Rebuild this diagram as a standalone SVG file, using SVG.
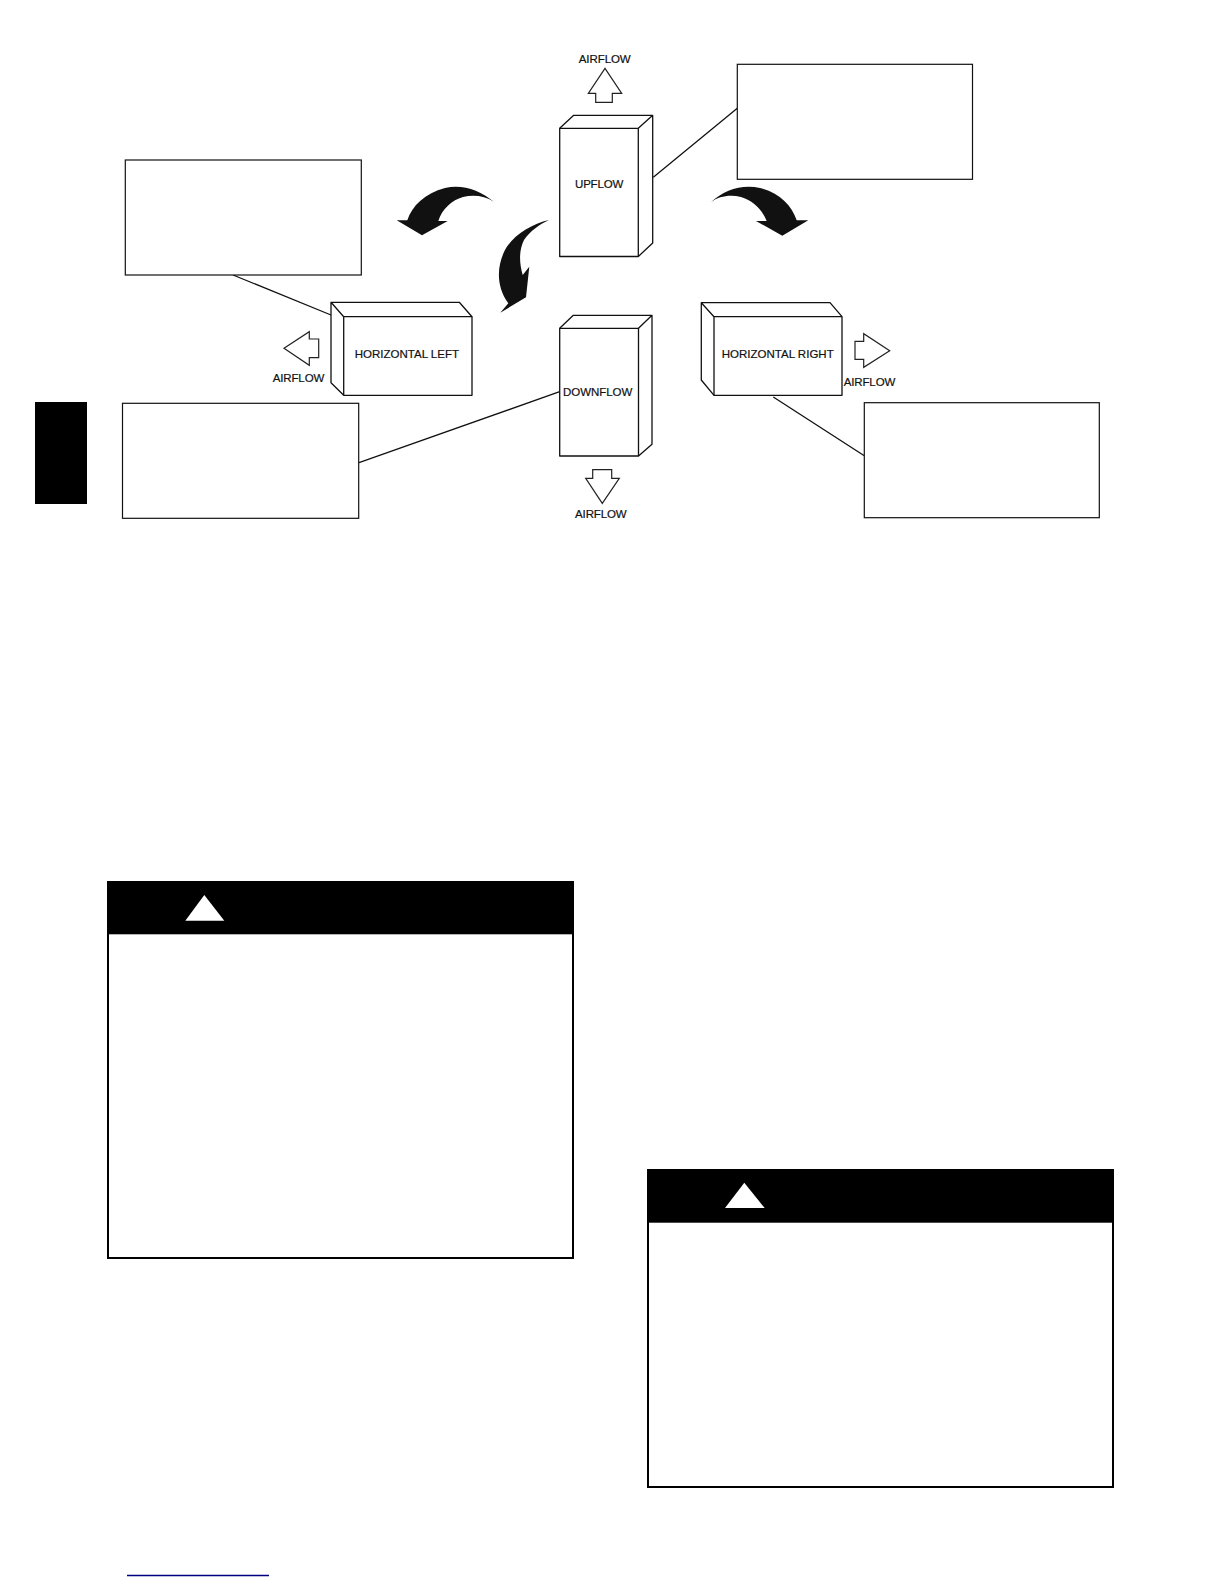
<svg xmlns="http://www.w3.org/2000/svg" width="1224" height="1584" viewBox="0 0 1224 1584">
<style>
.l{fill:none;stroke:#111;stroke-width:1.3;stroke-linejoin:round}
.b{fill:#fff;stroke:#111;stroke-width:1.2}
.a{fill:#fff;stroke:#222;stroke-width:1.2}
.c{fill:#111;stroke:none}
text{font-family:"Liberation Sans",Arial,sans-serif;font-size:11.5px;fill:#111;stroke:#111;stroke-width:.2}
.w{fill:#fff;stroke:#000;stroke-width:2}
</style>
<rect width="1224" height="1584" fill="#fff"/>
<rect id="side-tab" x="35" y="402" width="52" height="102" fill="#000"/>
<g id="connectors">
<path class="l" d="M653.3 177.3L737.3 108.3M233 275L331 315M359 462.7L559.7 391.7M773.3 397L864.3 455.7"/>
</g>
<g id="note-upper-right"><rect class="b" x="737.3" y="64.3" width="235.2" height="115"/></g>
<g id="note-upper-left"><rect class="b" x="125.3" y="160" width="236" height="115"/></g>
<g id="note-lower-left"><rect class="b" x="122.5" y="403.3" width="236.2" height="115"/></g>
<g id="note-lower-right"><rect class="b" x="864.3" y="402.7" width="235" height="115"/></g>
<g id="upflow">
<path class="l" d="M559.7 128.3L573.7 115.3H652.7V243L638.3 256.5M638.3 128.3L652.7 115.3"/>
<rect class="l" x="559.7" y="128.3" width="78.6" height="128.2"/>
<text x="575" y="187.5" textLength="48.3">UPFLOW</text>
</g>
<g id="downflow">
<path class="l" d="M559.7 328.3L573.3 315.3H652V444.3L638.5 456M638.5 328.3L652 315.3"/>
<rect class="l" x="559.7" y="328.3" width="78.8" height="127.7"/>
<text x="563" y="395.5" textLength="69.3">DOWNFLOW</text>
</g>
<g id="horizontal-left">
<path class="l" d="M343.7 316.7L331 302.3H459.3L472 316.7M331 302.3V382.7L343.7 395.3"/>
<rect class="l" x="343.7" y="316.7" width="128.3" height="78.6"/>
<text x="354.7" y="358" textLength="104.3">HORIZONTAL LEFT</text>
</g>
<g id="horizontal-right">
<path class="l" d="M714 316.7L701.3 302.7H830L842 316.7M701.3 302.7V380L714 395.3"/>
<rect class="l" x="714" y="316.7" width="128" height="78.6"/>
<text x="721.7" y="358" textLength="112">HORIZONTAL RIGHT</text>
</g>
<g id="airflow-up">
<path class="a" d="M605 68.3L621.7 93.3H612.3V102.3H595.7V93.3H588.3Z"/>
<text x="578.7" y="63.2" textLength="52">AIRFLOW</text>
</g>
<g id="airflow-left">
<path class="a" d="M284 348.3L309.3 331.7V339H318.7V357.7H309.3V365.3Z"/>
<text x="272.7" y="381.7" textLength="51.6">AIRFLOW</text>
</g>
<g id="airflow-down">
<path class="a" d="M602.3 503.3L619.3 478.3H611.7V469.7H592.7V478.3H585.7Z"/>
<text x="575" y="517.7" textLength="51.7">AIRFLOW</text>
</g>
<g id="airflow-right">
<path class="a" d="M889.7 350.7L863.7 333.7V341.3H855V359.3H863.7V367.3Z"/>
<text x="843.7" y="385.7" textLength="51.6">AIRFLOW</text>
</g>
<g id="turn-left"><path class="c" d="M493.7 201.7C480 190 462 184 445 188C425 193 412 206 407.3 220.3H396.7L422 235.3L447.7 221H438.3C442 209 452 200 463 197C474 194.5 485 196 493.7 201.7Z"/></g>
<g id="turn-right"><path class="c" d="M711 202.3C724 190 742 184 760 188C780 193 792 206 796.7 220.3H808.3L782.3 235.7L756 221H766.7C762 209 752 200 741 197C730 194.5 719 196 711 202.3Z"/></g>
<g id="turn-down"><path class="c" d="M549 220C530 224 510 238 504 252C498 265 495 285 508.3 303.3L500.3 312.7L526 297.3L529.3 266.7L522.7 275C519 262 519 250 524 240C530 231 540 224 549 220Z"/></g>
<g id="warning-left">
<rect class="w" x="108" y="882" width="465" height="376"/>
<rect x="107" y="881" width="467" height="53.3" fill="#000"/>
<path d="M204.3 895L224.3 920.7H185.3Z" fill="#fff"/>
</g>
<g id="warning-right">
<rect class="w" x="648" y="1170" width="465" height="317"/>
<rect x="647" y="1169" width="467" height="53.7" fill="#000"/>
<path d="M744.3 1182.7L764.7 1208H725Z" fill="#fff"/>
</g>
<path id="page-rule" d="M127 1575.5H269" stroke="#000080" stroke-width="1.5" fill="none"/>
</svg>
